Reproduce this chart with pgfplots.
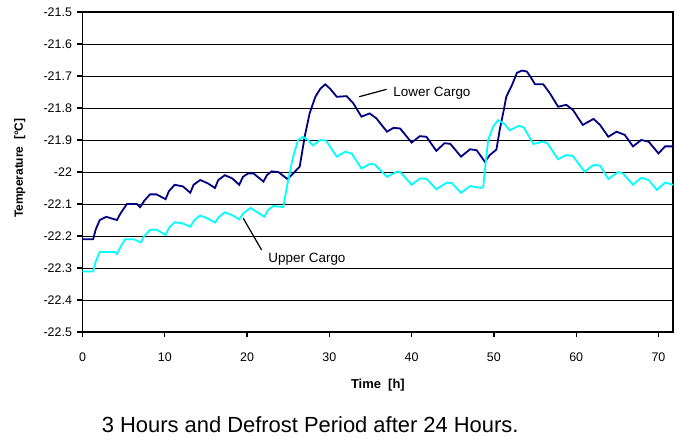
\documentclass[border=0pt]{standalone}
\usepackage{fontspec}
\setmainfont{Liberation Sans}
\usepackage{pgfplots}
\pgfplotsset{compat=1.18}
\definecolor{navyline}{RGB}{0,0,128}
\definecolor{cyanline}{RGB}{0,255,255}
\begin{document}
\begin{tikzpicture}
\begin{axis}[
  at={(0,0)}, anchor=south west,
  scale only axis,
  width=590.8bp, height=320bp,
  xmin=0, xmax=71.8,
  ymin=-22.5, ymax=-21.5,
  xtick={0,10,20,30,40,50,60,70},
  ytick={-22.5,-22.4,-22.3,-22.2,-22.1,-22,-21.9,-21.8,-21.7,-21.6,-21.5},
  yticklabels={-22.5,-22.4,-22.3,-22.2,-22.1,-22,-21.9,-21.8,-21.7,-21.6,-21.5},
  xtick pos=left, ytick pos=left,
  tick align=outside,
  major tick length=5bp,
  tick style={black, line width=1.2bp},
  ymajorgrids,
  grid style={black, line width=0.9bp},
  axis line style={black, line width=1.8bp},
  /pgf/number format/assume math mode=true,
  ticklabel style={font=\fontsize{12.5}{14}\selectfont},
  xticklabel style={yshift=-12bp},
  yticklabel style={xshift=-2bp},
  xlabel={Time\ \ [h]},
  xlabel style={font=\fontsize{13}{15}\selectfont\bfseries, at={(axis description cs:0.5,-0.166)}, anchor=center},
  ylabel={Temperature\ \ [°C]},
  ylabel style={font=\fontsize{12}{14}\selectfont\bfseries, at={(axis description cs:-0.106,0.512)}, anchor=center, rotate=0},
  clip=false,
]
\addplot[navyline, line width=1.8bp] coordinates {
(0,-22.21) (1.3,-22.21) (1.6,-22.18) (2.1,-22.15) (2.9,-22.14) (3.5,-22.145) (4.2,-22.15)
(4.6,-22.13) (5.4,-22.10) (6.6,-22.10) (7.0,-22.11) (7.5,-22.09) (8.2,-22.07) (9.0,-22.07)
(10.1,-22.085) (10.5,-22.06) (11.2,-22.04) (12.2,-22.045) (13.1,-22.065) (13.5,-22.04)
(14.3,-22.025) (15.2,-22.035) (16.1,-22.05) (16.5,-22.025) (17.3,-22.01) (18.2,-22.02)
(19.05,-22.04) (19.5,-22.015) (20.1,-22.005) (20.8,-22.005) (22.0,-22.03) (22.4,-22.01)
(23.0,-21.998) (23.8,-22.0) (24.9,-22.022) (25.4,-22.01) (26.4,-21.983) (27.0,-21.89)
(27.6,-21.817) (28.3,-21.765) (28.9,-21.74) (29.5,-21.726) (30.1,-21.74) (30.9,-21.765)
(32.1,-21.763) (32.9,-21.785) (33.9,-21.827) (34.9,-21.817) (35.7,-21.832) (37.0,-21.874)
(37.8,-21.862) (38.6,-21.864) (40.0,-21.908) (41.0,-21.888) (41.8,-21.89) (43.0,-21.934)
(44.0,-21.91) (44.7,-21.912) (46.0,-21.952) (47.1,-21.929) (47.9,-21.932) (48.9,-21.968)
(49.5,-21.947) (50.3,-21.93) (50.7,-21.869) (51.2,-21.806) (51.5,-21.765) (52.2,-21.728)
(52.8,-21.69) (53.4,-21.683) (54.0,-21.686) (54.5,-21.705) (55.0,-21.726) (56.0,-21.726)
(56.8,-21.754) (57.8,-21.796) (58.8,-21.79) (59.6,-21.806) (60.8,-21.853) (62.1,-21.834)
(62.9,-21.853) (63.9,-21.89) (64.9,-21.874) (65.9,-21.884) (66.9,-21.92) (67.9,-21.9)
(68.8,-21.905) (70.0,-21.942) (70.8,-21.92) (71.8,-21.92)
};
\addplot[cyanline, line width=1.8bp] coordinates {
(0,-22.311) (1.3,-22.311) (1.6,-22.28) (2.1,-22.25) (3.9,-22.25) (4.2,-22.256) (4.6,-22.235)
(5.2,-22.21) (6.2,-22.21) (7.1,-22.22) (7.5,-22.20) (8.2,-22.181) (9.0,-22.18) (10.1,-22.197)
(10.5,-22.175) (11.2,-22.157) (12.1,-22.16) (13.1,-22.171) (13.6,-22.15) (14.3,-22.136)
(15.2,-22.145) (16.1,-22.158) (16.6,-22.14) (17.3,-22.126) (18.2,-22.135) (19.05,-22.148)
(19.5,-22.13) (20.4,-22.1125) (21.2,-22.125) (22.1,-22.14) (22.5,-22.12) (23.2,-22.106)
(24.4,-22.11) (24.6,-22.08) (25.0,-22.025) (25.6,-21.952) (26.2,-21.90) (26.8,-21.89)
(27.4,-21.90) (28.0,-21.917) (28.9,-21.90) (29.6,-21.902) (30.9,-21.952) (31.9,-21.937)
(32.7,-21.942) (33.9,-21.989) (34.9,-21.975) (35.5,-21.976) (37.0,-22.015) (38.2,-21.999)
(38.6,-22.0) (40.0,-22.04) (41.0,-22.02) (41.8,-22.021) (43.0,-22.054) (44.3,-22.033)
(44.9,-22.035) (46.0,-22.065) (47.1,-22.044) (48.5,-22.05) (48.7,-22.046) (48.9,-21.994)
(49.3,-21.9) (49.9,-21.858) (50.5,-21.838) (51.3,-21.85) (51.9,-21.87) (53.0,-21.856)
(53.6,-21.86) (54.8,-21.9125) (56.0,-21.905) (56.5,-21.91) (57.8,-21.96) (58.8,-21.947)
(59.6,-21.95) (61.0,-21.999) (62.1,-21.978) (62.9,-21.98) (63.9,-22.022) (65.1,-22.0)
(65.7,-22.005) (66.9,-22.04) (67.9,-22.018) (68.8,-22.025) (69.8,-22.056) (70.8,-22.033)
(71.8,-22.04)
};
\draw[black, line width=1.2bp] (axis cs:33.63,-21.7647) -- (axis cs:36.96,-21.7416);
\node[anchor=base west, inner sep=0pt, font=\fontsize{13.5}{15}\selectfont] at (axis cs:37.77,-21.7634) {Lower Cargo};
\draw[black, line width=1.2bp] (axis cs:19.54,-22.1447) -- (axis cs:21.77,-22.2438);
\node[anchor=base west, inner sep=0pt, font=\fontsize{13.5}{15}\selectfont] at (axis cs:22.58,-22.282) {Upper Cargo};
\node[anchor=base west, inner sep=0pt, font=\fontsize{22}{26}\selectfont] at (axis cs:2.33,-22.8156) {3 Hours and Defrost Period after 24 Hours.};
\end{axis}
\useasboundingbox (-82.5bp,-107bp) rectangle (596.5bp,332bp);
\end{tikzpicture}
\end{document}
